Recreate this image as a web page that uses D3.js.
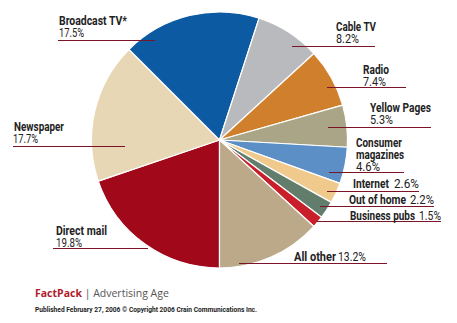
<!DOCTYPE html>
<html>
<head>
<meta charset="utf-8">
<script src="https://cdn.jsdelivr.net/npm/d3@7"></script>
<style>
  html, body { margin: 0; padding: 0; background: #ffffff; }
  svg { display: block; }
  .lbl { font-family: "Roboto", "DejaVu Sans", "Liberation Sans", sans-serif; fill: #222; }
</style>
</head>
<body>
<svg id="chart" width="457" height="323"></svg>
<script>
// Share of US advertising spending by medium
const categories = ["Direct mail", "Newspaper", "Broadcast TV*", "Cable TV", "Radio", "Yellow Pages",
  "Consumer magazines", "Internet", "Out of home", "Business pubs", "All other"];
const shares = [19.8, 17.7, 17.5, 8.2, 7.4, 5.3, 4.6, 2.6, 2.2, 1.5, 13.2];
const sliceColors = ["#a1091b", "#e8d7b5", "#0b5aa2", "#b9babe", "#d0802d", "#a9a586",
  "#5b8fc5", "#f0c98c", "#627d6c", "#c81f2a", "#bca98a"];

// Label layout: name lines [text, x, baseline, width], value [x, baseline, width], leader line span
const labelSpec = [
  { lines: [["Direct mail", 56, 235, 51]], val: [56, 247, 26], lx0: 53, lx1: 148, ly: 248.5 },
  { lines: [["Newspaper", 14, 131, 50]], val: [13, 143, 25], lx0: 13, lx1: 125, ly: 146.5 },
  { lines: [["Broadcast TV*", 59, 25, 68]], val: [59, 37, 25], lx0: 58, lx1: 155, ly: 40.5 },
  { lines: [["Cable TV", 336, 31, 40]], val: [336, 43, 23], lx0: 292, lx1: 375, ly: 46.5 },
  { lines: [["Radio", 363, 74, 26]], val: [363, 86, 23], lx0: 327, lx1: 406, ly: 87.5 },
  { lines: [["Yellow Pages", 370, 112, 61]], val: [370, 124, 23], lx0: 328, lx1: 431, ly: 127.5 },
  { lines: [["Consumer", 356, 147, 46], ["magazines", 356, 159, 48]], val: [356, 171, 24], lx0: 329, lx1: 404, ly: 172.5 },
  { lines: [["Internet", 353, 188, 36]], val: [394, 188, 25], lx0: 327, lx1: 419, ly: 191.5 },
  { lines: [["Out of home", 349, 204, 57]], val: [410, 204, 24], lx0: 320, lx1: 434, ly: 206.5 },
  { lines: [["Business pubs", 350, 219.5, 65]], val: [419, 219.5, 22], lx0: 317, lx1: 441, ly: 221.5 },
  { lines: [["All other", 294, 261, 42]], val: [338, 261, 28], lx0: 239, lx1: 387, ly: 263.5 }
];

const svg = d3.select("#chart");
const cx = 219.5, cy = 140, radius = 128;

const pie = d3.pie().sort(null).value(d => d)
  .startAngle(Math.PI).endAngle(3 * Math.PI);
const arc = d3.arc().innerRadius(0).outerRadius(radius);

const g = svg.append("g").attr("transform", `translate(${cx},${cy})`);
g.selectAll("path")
  .data(pie(shares))
  .join("path")
  .attr("d", arc)
  .attr("fill", (d, i) => sliceColors[i])
  .attr("stroke", "#ffffff")
  .attr("stroke-width", 1.2)
  .attr("stroke-linejoin", "round");

// Leader lines
svg.selectAll("line.leader")
  .data(labelSpec)
  .join("line")
  .attr("class", "leader")
  .attr("x1", d => d.lx0).attr("x2", d => d.lx1)
  .attr("y1", d => d.ly).attr("y2", d => d.ly)
  .attr("stroke", "#7b1426")
  .attr("stroke-width", 1);

// Labels: condensed by fitting each run to its set width
labelSpec.forEach((s, i) => {
  s.lines.forEach(([txt, x, y, w]) => {
    svg.append("text").attr("class", "lbl")
      .attr("x", x).attr("y", y)
      .attr("textLength", w).attr("lengthAdjust", "spacingAndGlyphs")
      .style("font-size", "12px").attr("font-weight", "bold")
      .text(txt);
  });
  const [vx, vy, vw] = s.val;
  svg.append("text").attr("class", "lbl")
    .attr("x", vx).attr("y", vy)
    .attr("textLength", vw).attr("lengthAdjust", "spacingAndGlyphs")
    .style("font-size", "12px").attr("font-weight", "normal")
    .text(shares[i].toFixed(1) + "%");
});

// Footer
const foot = svg.append("text").attr("x", 35).attr("y", 297)
  .style("font-family", "\"Open Sans\", \"Liberation Sans\", sans-serif")
  .style("font-size", "10.5px");
foot.append("tspan").attr("fill", "#b01a2c").attr("font-weight", "bold").text("FactPack");
foot.append("tspan").attr("fill", "#555").text(" | Advertising Age");

svg.append("text").attr("class", "lbl").attr("x", 35).attr("y", 312)
  .attr("textLength", 222).attr("lengthAdjust", "spacingAndGlyphs")
  .style("font-size", "7.6px").attr("font-weight", "bold").attr("fill", "#333")
  .text("Published February 27, 2006 \u00A9 Copyright 2006 Crain Communications Inc.");
</script>
</body>
</html>
